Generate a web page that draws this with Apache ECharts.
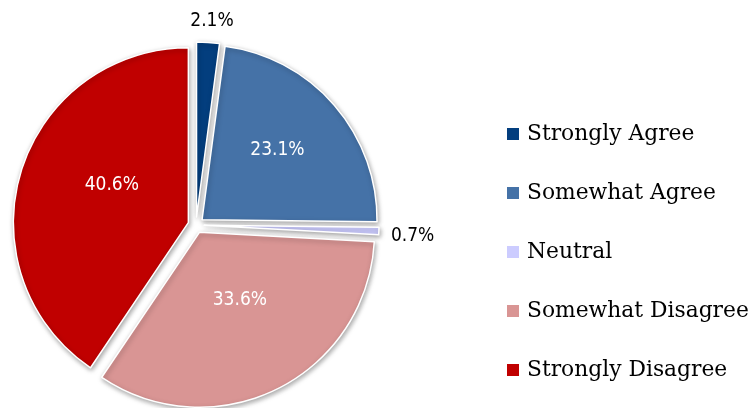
<!DOCTYPE html>
<html>
<head>
<meta charset="utf-8">
<script src="https://cdn.jsdelivr.net/npm/echarts@6/dist/echarts.min.js"></script>
<style>html,body{margin:0;padding:0;background:#fff;}#c{width:754px;height:408px;}</style>
</head>
<body>
<div id="c"></div>
<script>
const categories = ['Strongly Agree', 'Somewhat Agree', 'Neutral', 'Somewhat Disagree', 'Strongly Disagree'];
const values = [2.1, 23.1, 0.7, 33.6, 40.6];
const colors = ['#033E7E', '#4572A7', '#CCCCFF', '#D99594', '#C00000'];
const outsideLabels = ['Strongly Agree', 'Neutral'];

const chart = echarts.init(document.getElementById('c'));
const data = categories.map((name, i) => {
  const outside = outsideLabels.includes(name);
  return {
    name: name,
    value: values[i],
    selected: true,
    itemStyle: { color: colors[i] },
    label: outside ? { position: 'outside', color: '#000' } : { position: 'inside', color: '#fff' },
    labelLine: { show: false, length: 4, length2: 0 }
  };
});
// small nudges of the label text relative to ECharts' default placement
const labelNudge = [[-23, -17], [7, -10], [3, 5], [0, -13], [10, -11]];
chart.setOption({
  animation: false,
  legend: {
    orient: 'vertical',
    left: 502,
    top: 118,
    itemWidth: 12,
    itemHeight: 12,
    itemGap: 37,
    icon: 'rect',
    data: categories,
    itemStyle: { borderWidth: 0, shadowBlur: 0 },
    textStyle: { fontFamily: 'DejaVu Serif', fontSize: 21.8, color: '#000', padding: [0, 0, 0, 3] }
  },
  series: [{
    type: 'pie',
    center: [196, 225],
    radius: 175,
    startAngle: 90,
    selectedMode: 'multiple',
    selectedOffset: 8,
    emphasis: { disabled: true },
    itemStyle: { borderColor: '#fff', borderWidth: 1.5, shadowBlur: 5, shadowColor: 'rgba(0,0,0,0.35)', shadowOffsetX: 1, shadowOffsetY: 2 },
    label: {
      formatter: p => p.value.toFixed(1) + '%',
      fontFamily: '"DejaVu Sans Condensed", "Liberation Sans Narrow", "Liberation Sans", sans-serif',
      fontSize: 19
    },
    labelLayout: p => ({ dx: labelNudge[p.dataIndex][0], dy: labelNudge[p.dataIndex][1] }),
    data: data
  }]
});
</script>
</body>
</html>
